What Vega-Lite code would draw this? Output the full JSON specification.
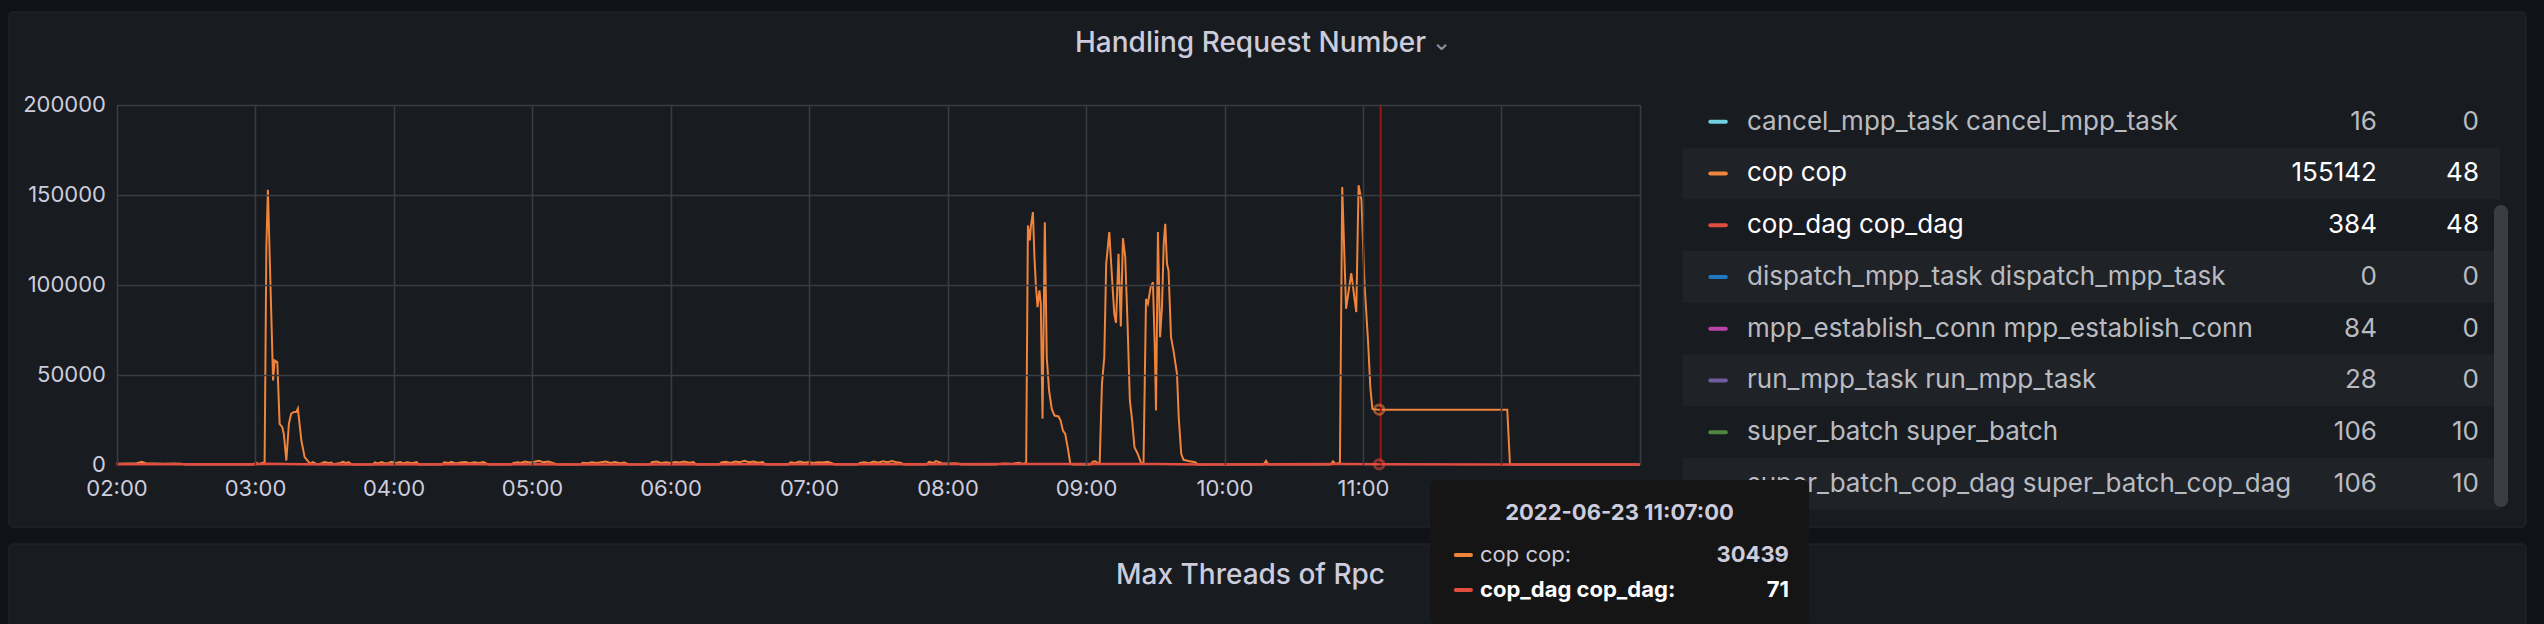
{
  "$schema": "https://vega.github.io/schema/vega-lite/v6.json",
  "width": 2544,
  "height": 624,
  "autosize": {"type": "none"},
  "padding": 0,
  "background": "#111217",
  "config": {
    "view": {"stroke": null},
    "font": "Inter",
    "axis": {"labelFont": "Inter", "labelFontSize": 22, "labelColor": "#ccccdc", "domain": false, "ticks": false, "title": null, "gridColor": "#3a3c42", "gridWidth": 1.5}
  },
  "datasets": {
    "panels": [
      {"title": "Handling Request Number"},
      {"title": "Max Threads of Rpc"}
    ],
    "cop": [
      {"time": "2022-06-23T02:00:00", "value": 400},
      {"time": "2022-06-23T02:04:00", "value": 600},
      {"time": "2022-06-23T02:08:00", "value": 500},
      {"time": "2022-06-23T02:11:00", "value": 1500},
      {"time": "2022-06-23T02:13:00", "value": 500},
      {"time": "2022-06-23T02:17:00", "value": 600},
      {"time": "2022-06-23T02:21:00", "value": 400},
      {"time": "2022-06-23T02:25:00", "value": 600},
      {"time": "2022-06-23T02:28:00", "value": 400},
      {"time": "2022-06-23T02:30:00", "value": 0},
      {"time": "2022-06-23T02:59:00", "value": 0},
      {"time": "2022-06-23T03:00:30", "value": 1000},
      {"time": "2022-06-23T03:01:30", "value": 200},
      {"time": "2022-06-23T03:04:10", "value": 1300},
      {"time": "2022-06-23T03:04:55", "value": 120900},
      {"time": "2022-06-23T03:05:35", "value": 152600},
      {"time": "2022-06-23T03:07:50", "value": 46700},
      {"time": "2022-06-23T03:08:30", "value": 57800},
      {"time": "2022-06-23T03:09:40", "value": 56900},
      {"time": "2022-06-23T03:10:40", "value": 22600},
      {"time": "2022-06-23T03:11:50", "value": 20700},
      {"time": "2022-06-23T03:12:30", "value": 16900},
      {"time": "2022-06-23T03:13:35", "value": 2200},
      {"time": "2022-06-23T03:14:40", "value": 22600},
      {"time": "2022-06-23T03:15:40", "value": 28300},
      {"time": "2022-06-23T03:16:55", "value": 29200},
      {"time": "2022-06-23T03:17:55", "value": 29200},
      {"time": "2022-06-23T03:18:35", "value": 31100},
      {"time": "2022-06-23T03:20:05", "value": 13300},
      {"time": "2022-06-23T03:21:30", "value": 4100},
      {"time": "2022-06-23T03:22:55", "value": 1900},
      {"time": "2022-06-23T03:24:00", "value": 500},
      {"time": "2022-06-23T03:25:00", "value": 1300},
      {"time": "2022-06-23T03:26:00", "value": 800},
      {"time": "2022-06-23T03:27:00", "value": 0},
      {"time": "2022-06-23T03:29:00", "value": 700},
      {"time": "2022-06-23T03:30:00", "value": 1400},
      {"time": "2022-06-23T03:32:00", "value": 900},
      {"time": "2022-06-23T03:33:00", "value": 1100},
      {"time": "2022-06-23T03:34:00", "value": 200},
      {"time": "2022-06-23T03:37:00", "value": 900},
      {"time": "2022-06-23T03:38:00", "value": 1500},
      {"time": "2022-06-23T03:39:30", "value": 800},
      {"time": "2022-06-23T03:40:30", "value": 1300},
      {"time": "2022-06-23T03:42:00", "value": 0},
      {"time": "2022-06-23T03:51:00", "value": 0},
      {"time": "2022-06-23T03:52:00", "value": 1100},
      {"time": "2022-06-23T03:53:00", "value": 600},
      {"time": "2022-06-23T03:55:00", "value": 1300},
      {"time": "2022-06-23T03:56:00", "value": 700},
      {"time": "2022-06-23T03:58:00", "value": 900},
      {"time": "2022-06-23T03:59:00", "value": 1500},
      {"time": "2022-06-23T04:01:00", "value": 900},
      {"time": "2022-06-23T04:03:00", "value": 1400},
      {"time": "2022-06-23T04:04:00", "value": 600},
      {"time": "2022-06-23T04:06:00", "value": 1200},
      {"time": "2022-06-23T04:08:00", "value": 700},
      {"time": "2022-06-23T04:10:00", "value": 1300},
      {"time": "2022-06-23T04:11:00", "value": 0},
      {"time": "2022-06-23T04:21:00", "value": 0},
      {"time": "2022-06-23T04:22:00", "value": 1200},
      {"time": "2022-06-23T04:24:00", "value": 800},
      {"time": "2022-06-23T04:25:00", "value": 1500},
      {"time": "2022-06-23T04:27:00", "value": 600},
      {"time": "2022-06-23T04:29:00", "value": 1100},
      {"time": "2022-06-23T04:31:00", "value": 1400},
      {"time": "2022-06-23T04:33:00", "value": 700},
      {"time": "2022-06-23T04:35:00", "value": 1200},
      {"time": "2022-06-23T04:37:00", "value": 900},
      {"time": "2022-06-23T04:39:00", "value": 1300},
      {"time": "2022-06-23T04:41:00", "value": 0},
      {"time": "2022-06-23T04:51:00", "value": 0},
      {"time": "2022-06-23T04:52:00", "value": 900},
      {"time": "2022-06-23T04:54:00", "value": 1300},
      {"time": "2022-06-23T04:55:00", "value": 800},
      {"time": "2022-06-23T04:57:00", "value": 1700},
      {"time": "2022-06-23T04:59:00", "value": 1100},
      {"time": "2022-06-23T05:01:00", "value": 1500},
      {"time": "2022-06-23T05:03:00", "value": 2000},
      {"time": "2022-06-23T05:05:00", "value": 1200},
      {"time": "2022-06-23T05:07:00", "value": 1600},
      {"time": "2022-06-23T05:09:00", "value": 900},
      {"time": "2022-06-23T05:11:00", "value": 0},
      {"time": "2022-06-23T05:21:00", "value": 0},
      {"time": "2022-06-23T05:22:00", "value": 1000},
      {"time": "2022-06-23T05:24:00", "value": 700},
      {"time": "2022-06-23T05:26:00", "value": 1300},
      {"time": "2022-06-23T05:28:00", "value": 800},
      {"time": "2022-06-23T05:30:00", "value": 1200},
      {"time": "2022-06-23T05:32:00", "value": 1600},
      {"time": "2022-06-23T05:34:00", "value": 900},
      {"time": "2022-06-23T05:36:00", "value": 1400},
      {"time": "2022-06-23T05:38:00", "value": 700},
      {"time": "2022-06-23T05:40:00", "value": 1100},
      {"time": "2022-06-23T05:42:00", "value": 0},
      {"time": "2022-06-23T05:51:00", "value": 0},
      {"time": "2022-06-23T05:52:00", "value": 1300},
      {"time": "2022-06-23T05:54:00", "value": 1700},
      {"time": "2022-06-23T05:56:00", "value": 900},
      {"time": "2022-06-23T05:58:00", "value": 1200},
      {"time": "2022-06-23T06:00:00", "value": 800},
      {"time": "2022-06-23T06:02:00", "value": 1400},
      {"time": "2022-06-23T06:04:00", "value": 1100},
      {"time": "2022-06-23T06:06:00", "value": 1600},
      {"time": "2022-06-23T06:08:00", "value": 1000},
      {"time": "2022-06-23T06:10:00", "value": 1300},
      {"time": "2022-06-23T06:11:00", "value": 0},
      {"time": "2022-06-23T06:21:00", "value": 0},
      {"time": "2022-06-23T06:22:00", "value": 1100},
      {"time": "2022-06-23T06:24:00", "value": 1500},
      {"time": "2022-06-23T06:26:00", "value": 900},
      {"time": "2022-06-23T06:28:00", "value": 1600},
      {"time": "2022-06-23T06:30:00", "value": 1200},
      {"time": "2022-06-23T06:32:00", "value": 2100},
      {"time": "2022-06-23T06:34:00", "value": 1300},
      {"time": "2022-06-23T06:36:00", "value": 1700},
      {"time": "2022-06-23T06:38:00", "value": 1000},
      {"time": "2022-06-23T06:40:00", "value": 1400},
      {"time": "2022-06-23T06:41:00", "value": 0},
      {"time": "2022-06-23T06:51:00", "value": 0},
      {"time": "2022-06-23T06:52:00", "value": 1200},
      {"time": "2022-06-23T06:54:00", "value": 900},
      {"time": "2022-06-23T06:56:00", "value": 1600},
      {"time": "2022-06-23T06:58:00", "value": 1000},
      {"time": "2022-06-23T07:00:00", "value": 1400},
      {"time": "2022-06-23T07:02:00", "value": 800},
      {"time": "2022-06-23T07:04:00", "value": 1300},
      {"time": "2022-06-23T07:06:00", "value": 1100},
      {"time": "2022-06-23T07:08:00", "value": 1500},
      {"time": "2022-06-23T07:10:00", "value": 700},
      {"time": "2022-06-23T07:11:00", "value": 0},
      {"time": "2022-06-23T07:21:00", "value": 0},
      {"time": "2022-06-23T07:22:00", "value": 800},
      {"time": "2022-06-23T07:24:00", "value": 1200},
      {"time": "2022-06-23T07:26:00", "value": 700},
      {"time": "2022-06-23T07:28:00", "value": 1600},
      {"time": "2022-06-23T07:30:00", "value": 1000},
      {"time": "2022-06-23T07:32:00", "value": 1800},
      {"time": "2022-06-23T07:34:00", "value": 1300},
      {"time": "2022-06-23T07:36:00", "value": 1900},
      {"time": "2022-06-23T07:38:00", "value": 1200},
      {"time": "2022-06-23T07:40:00", "value": 900},
      {"time": "2022-06-23T07:41:00", "value": 0},
      {"time": "2022-06-23T07:51:00", "value": 0},
      {"time": "2022-06-23T07:52:00", "value": 1500},
      {"time": "2022-06-23T07:54:00", "value": 900},
      {"time": "2022-06-23T07:55:00", "value": 1900},
      {"time": "2022-06-23T07:57:00", "value": 1000},
      {"time": "2022-06-23T07:58:00", "value": 400},
      {"time": "2022-06-23T07:59:00", "value": 600},
      {"time": "2022-06-23T08:01:00", "value": 500},
      {"time": "2022-06-23T08:03:00", "value": 700},
      {"time": "2022-06-23T08:05:00", "value": 400},
      {"time": "2022-06-23T08:06:00", "value": 0},
      {"time": "2022-06-23T08:21:00", "value": 0},
      {"time": "2022-06-23T08:22:00", "value": 300},
      {"time": "2022-06-23T08:25:00", "value": 500},
      {"time": "2022-06-23T08:28:00", "value": 300},
      {"time": "2022-06-23T08:30:00", "value": 800},
      {"time": "2022-06-23T08:31:00", "value": 1000},
      {"time": "2022-06-23T08:32:00", "value": 600},
      {"time": "2022-06-23T08:33:00", "value": 300},
      {"time": "2022-06-23T08:34:05", "value": 1300},
      {"time": "2022-06-23T08:34:50", "value": 132800},
      {"time": "2022-06-23T08:35:40", "value": 124500},
      {"time": "2022-06-23T08:36:05", "value": 131900},
      {"time": "2022-06-23T08:37:00", "value": 140200},
      {"time": "2022-06-23T08:37:40", "value": 115200},
      {"time": "2022-06-23T08:38:15", "value": 100400},
      {"time": "2022-06-23T08:39:00", "value": 87400},
      {"time": "2022-06-23T08:39:50", "value": 96700},
      {"time": "2022-06-23T08:40:25", "value": 89300},
      {"time": "2022-06-23T08:41:10", "value": 25400},
      {"time": "2022-06-23T08:42:10", "value": 134600},
      {"time": "2022-06-23T08:43:00", "value": 59600},
      {"time": "2022-06-23T08:44:00", "value": 41100},
      {"time": "2022-06-23T08:45:10", "value": 30900},
      {"time": "2022-06-23T08:46:20", "value": 27200},
      {"time": "2022-06-23T08:48:05", "value": 26700},
      {"time": "2022-06-23T08:49:00", "value": 24400},
      {"time": "2022-06-23T08:50:00", "value": 18900},
      {"time": "2022-06-23T08:51:00", "value": 17000},
      {"time": "2022-06-23T08:52:10", "value": 8700},
      {"time": "2022-06-23T08:53:10", "value": 700},
      {"time": "2022-06-23T08:54:00", "value": 0},
      {"time": "2022-06-23T09:02:00", "value": 0},
      {"time": "2022-06-23T09:03:00", "value": 1600},
      {"time": "2022-06-23T09:04:00", "value": 1800},
      {"time": "2022-06-23T09:05:00", "value": 900},
      {"time": "2022-06-23T09:05:55", "value": 700},
      {"time": "2022-06-23T09:06:55", "value": 44800},
      {"time": "2022-06-23T09:07:55", "value": 59600},
      {"time": "2022-06-23T09:08:45", "value": 111500},
      {"time": "2022-06-23T09:10:05", "value": 129100},
      {"time": "2022-06-23T09:11:15", "value": 104100},
      {"time": "2022-06-23T09:12:15", "value": 83700},
      {"time": "2022-06-23T09:13:00", "value": 78700},
      {"time": "2022-06-23T09:14:05", "value": 117000},
      {"time": "2022-06-23T09:15:05", "value": 76700},
      {"time": "2022-06-23T09:16:00", "value": 125700},
      {"time": "2022-06-23T09:17:00", "value": 115200},
      {"time": "2022-06-23T09:18:00", "value": 78100},
      {"time": "2022-06-23T09:19:00", "value": 35600},
      {"time": "2022-06-23T09:20:00", "value": 24400},
      {"time": "2022-06-23T09:21:00", "value": 9600},
      {"time": "2022-06-23T09:22:25", "value": 5900},
      {"time": "2022-06-23T09:23:55", "value": 700},
      {"time": "2022-06-23T09:24:55", "value": 700},
      {"time": "2022-06-23T09:26:00", "value": 92000},
      {"time": "2022-06-23T09:26:50", "value": 89300},
      {"time": "2022-06-23T09:28:00", "value": 98500},
      {"time": "2022-06-23T09:29:00", "value": 101300},
      {"time": "2022-06-23T09:29:45", "value": 67000},
      {"time": "2022-06-23T09:30:20", "value": 30000},
      {"time": "2022-06-23T09:31:10", "value": 129100},
      {"time": "2022-06-23T09:32:05", "value": 70700},
      {"time": "2022-06-23T09:32:55", "value": 87400},
      {"time": "2022-06-23T09:33:40", "value": 122600},
      {"time": "2022-06-23T09:34:20", "value": 133700},
      {"time": "2022-06-23T09:35:05", "value": 111500},
      {"time": "2022-06-23T09:35:45", "value": 107800},
      {"time": "2022-06-23T09:36:50", "value": 70700},
      {"time": "2022-06-23T09:37:55", "value": 63300},
      {"time": "2022-06-23T09:39:25", "value": 50400},
      {"time": "2022-06-23T09:40:10", "value": 26300},
      {"time": "2022-06-23T09:41:15", "value": 5900},
      {"time": "2022-06-23T09:42:15", "value": 2600},
      {"time": "2022-06-23T09:44:25", "value": 1900},
      {"time": "2022-06-23T09:47:20", "value": 1300},
      {"time": "2022-06-23T09:48:30", "value": 0},
      {"time": "2022-06-23T10:17:00", "value": 0},
      {"time": "2022-06-23T10:18:00", "value": 2000},
      {"time": "2022-06-23T10:19:00", "value": 0},
      {"time": "2022-06-23T10:46:00", "value": 0},
      {"time": "2022-06-23T10:47:00", "value": 1800},
      {"time": "2022-06-23T10:48:00", "value": 300},
      {"time": "2022-06-23T10:50:00", "value": 800},
      {"time": "2022-06-23T10:51:00", "value": 154100},
      {"time": "2022-06-23T10:52:40", "value": 86500},
      {"time": "2022-06-23T10:54:55", "value": 106300},
      {"time": "2022-06-23T10:57:05", "value": 84700},
      {"time": "2022-06-23T10:58:05", "value": 155142},
      {"time": "2022-06-23T10:59:20", "value": 146900},
      {"time": "2022-06-23T11:00:40", "value": 100200},
      {"time": "2022-06-23T11:02:10", "value": 68900},
      {"time": "2022-06-23T11:03:10", "value": 43000},
      {"time": "2022-06-23T11:04:05", "value": 30900},
      {"time": "2022-06-23T11:05:00", "value": 30600},
      {"time": "2022-06-23T11:06:00", "value": 30500},
      {"time": "2022-06-23T11:07:00", "value": 30439},
      {"time": "2022-06-23T12:02:30", "value": 30439},
      {"time": "2022-06-23T12:03:40", "value": 0},
      {"time": "2022-06-23T12:30:00", "value": 0},
      {"time": "2022-06-23T13:00:00", "value": 48}
    ],
    "cop_dag": [
      {"time": "2022-06-23T02:00:00", "value": 120},
      {"time": "2022-06-23T02:30:00", "value": 90},
      {"time": "2022-06-23T03:00:00", "value": 150},
      {"time": "2022-06-23T03:05:00", "value": 384},
      {"time": "2022-06-23T03:20:00", "value": 200},
      {"time": "2022-06-23T03:40:00", "value": 60},
      {"time": "2022-06-23T04:30:00", "value": 80},
      {"time": "2022-06-23T05:30:00", "value": 60},
      {"time": "2022-06-23T06:30:00", "value": 90},
      {"time": "2022-06-23T07:30:00", "value": 70},
      {"time": "2022-06-23T08:35:00", "value": 300},
      {"time": "2022-06-23T09:10:00", "value": 280},
      {"time": "2022-06-23T09:30:00", "value": 260},
      {"time": "2022-06-23T09:50:00", "value": 40},
      {"time": "2022-06-23T10:51:00", "value": 320},
      {"time": "2022-06-23T11:07:00", "value": 71},
      {"time": "2022-06-23T12:00:00", "value": 50},
      {"time": "2022-06-23T13:00:00", "value": 48}
    ],
    "legend": [
      {"name": "cancel_mpp_task cancel_mpp_task", "max": 16, "current": 0},
      {"name": "cop cop", "max": 155142, "current": 48},
      {"name": "cop_dag cop_dag", "max": 384, "current": 48},
      {"name": "dispatch_mpp_task dispatch_mpp_task", "max": 0, "current": 0},
      {"name": "mpp_establish_conn mpp_establish_conn", "max": 84, "current": 0},
      {"name": "run_mpp_task run_mpp_task", "max": 28, "current": 0},
      {"name": "super_batch super_batch", "max": 106, "current": 10},
      {"name": "super_batch_cop_dag super_batch_cop_dag", "max": 106, "current": 10}
    ],
    "hover": [{"time": "2022-06-23T11:07:00", "cursor": "2022-06-23T11:07:40"}],
    "tip": [
      {"name": "cop cop", "value": 30439},
      {"name": "cop_dag cop_dag", "value": 71}
    ]
  },
  "layer": [
    {
      "data": {"name": "panels"},
      "encoding": {
        "y": {"field": "title", "type": "nominal", "axis": null,
          "scale": {"domain": ["Handling Request Number", "Max Threads of Rpc"], "range": [12, 1059], "paddingInner": 0.03195, "paddingOuter": 0}},
        "x": {"datum": 0, "type": "quantitative", "axis": null, "scale": {"domain": [0, 1], "range": [9, 2526]}}
      },
      "layer": [
        {
          "mark": {"type": "rect", "fill": "#181b1f", "stroke": "#25282d", "strokeWidth": 1, "cornerRadius": 4},
          "encoding": {"x2": {"datum": 1}}
        },
        {
          "mark": {"type": "text", "align": "center", "baseline": "alphabetic", "dy": 40, "dx": -17, "fontSize": 28, "fontWeight": 500, "font": "Inter", "color": "#ccccdc"},
          "encoding": {
            "x": {"datum": 0.5, "type": "quantitative", "axis": null},
            "y": {"field": "title", "type": "nominal", "bandPosition": 0, "axis": null},
            "text": {"field": "title"}
          }
        },
        {
          "transform": [{"filter": "datum.title === 'Handling Request Number'"}],
          "mark": {"type": "text", "text": "⌄", "align": "center", "baseline": "alphabetic", "dy": 38, "dx": 174, "fontSize": 24, "font": "DejaVu Sans", "color": "#8e9099"},
          "encoding": {
            "x": {"datum": 0.5, "type": "quantitative", "axis": null},
            "y": {"field": "title", "type": "nominal", "bandPosition": 0, "axis": null}
          }
        }
      ]
    },
    {
      "data": {"name": "hover"},
      "mark": {"type": "point", "opacity": 0},
      "encoding": {
        "x": {"datum": 0, "type": "quantitative", "axis": null, "scale": {"domain": [0, 1], "range": [116.5, 1640]}},
        "y": {"datum": 0, "type": "quantitative",
          "scale": {"domain": [0, 200000], "range": [464.5, 104.5], "nice": false},
          "axis": {"orient": "left", "offset": -116.5, "grid": true, "zindex": 1, "values": [0, 50000, 100000, 150000, 200000], "format": "d", "labelPadding": 11,
            "gridColor": {"condition": {"test": "datum.value === 0", "value": "transparent"}, "value": "#3a3c42"}}}
      }
    },
    {
      "layer": [
        {
          "data": {"name": "cop"},
          "mark": {"type": "line", "color": "#ef843c", "strokeWidth": 2},
          "encoding": {
            "x": {"field": "time", "type": "temporal",
              "scale": {"range": [116.5, 1640], "nice": false},
              "axis": {"orient": "bottom", "offset": -159.5, "grid": false, "zindex": 1, "tickCount": 11, "labelExpr": "hours(datum.value) >= 12 ? '' : timeFormat(datum.value, '%H:%M')", "labelPadding": 14, "labelFlush": false, "labelOverlap": false}},
            "y": {"field": "value", "type": "quantitative",
              "scale": {"domain": [0, 200000], "range": [464.5, 104.5], "nice": false},
              "axis": null}
          }
        },
        {
          "data": {"name": "cop_dag"},
          "mark": {"type": "line", "color": "#e24d42", "strokeWidth": 2.5},
          "encoding": {
            "x": {"field": "time", "type": "temporal",
              "axis": {"orient": "top", "offset": -104.5, "grid": true, "zindex": 1, "labels": false, "tickCount": 11}},
            "y": {"field": "value", "type": "quantitative", "axis": null}
          }
        },
        {
          "data": {"name": "hover"},
          "mark": {"type": "rule", "color": "#a01414", "strokeWidth": 2},
          "encoding": {
            "x": {"field": "cursor", "type": "temporal", "axis": null},
            "y": {"datum": 0, "type": "quantitative", "axis": null},
            "y2": {"datum": 200000}
          }
        },
        {
          "data": {"name": "cop"},
          "transform": [{"filter": "hours(datum.time) === 11 && minutes(datum.time) === 7"}],
          "mark": {"type": "point", "filled": false, "color": "#ef843c", "size": 90, "strokeWidth": 3, "opacity": 0.55},
          "encoding": {
            "x": {"field": "time", "type": "temporal", "axis": null},
            "y": {"field": "value", "type": "quantitative", "axis": null}
          }
        },
        {
          "data": {"name": "cop_dag"},
          "transform": [{"filter": "hours(datum.time) === 11 && minutes(datum.time) === 7"}],
          "mark": {"type": "point", "filled": false, "color": "#e24d42", "size": 90, "strokeWidth": 3, "opacity": 0.55},
          "encoding": {
            "x": {"field": "time", "type": "temporal", "axis": null},
            "y": {"field": "value", "type": "quantitative", "axis": null}
          }
        }
      ],
      "resolve": {"axis": {"x": "independent"}}
    },
    {
      "data": {"name": "legend"},
      "encoding": {
        "y": {"field": "name", "type": "nominal", "axis": null,
          "scale": {"domain": ["cancel_mpp_task cancel_mpp_task", "cop cop", "cop_dag cop_dag", "dispatch_mpp_task dispatch_mpp_task", "mpp_establish_conn mpp_establish_conn", "run_mpp_task run_mpp_task", "super_batch super_batch", "super_batch_cop_dag super_batch_cop_dag"], "range": [95.8, 509.8], "paddingInner": 0, "paddingOuter": 0}}
      },
      "layer": [
        {
          "transform": [{"filter": {"field": "name", "oneOf": ["cop cop", "dispatch_mpp_task dispatch_mpp_task", "run_mpp_task run_mpp_task", "super_batch_cop_dag super_batch_cop_dag"]}}],
          "mark": {"type": "rect", "color": "#1f2226"},
          "encoding": {
            "x": {"datum": 0, "type": "quantitative", "axis": null, "scale": {"domain": [0, 1], "range": [1682.5, 2500]}},
            "x2": {"datum": 1}
          }
        },
        {
          "mark": {"type": "rule", "strokeWidth": 4, "strokeCap": "round"},
          "encoding": {
            "x": {"datum": 0.034, "type": "quantitative"},
            "x2": {"datum": 0.053},
            "color": {"field": "name", "type": "nominal", "legend": null,
              "scale": {"domain": ["cancel_mpp_task cancel_mpp_task", "cop cop", "cop_dag cop_dag", "dispatch_mpp_task dispatch_mpp_task", "mpp_establish_conn mpp_establish_conn", "run_mpp_task run_mpp_task", "super_batch super_batch", "super_batch_cop_dag super_batch_cop_dag"],
                "range": ["#6ed0e0", "#ef843c", "#e24d42", "#1f78c1", "#ba43a9", "#705da0", "#508642", "#cca300"]}}
          }
        },
        {
          "mark": {"type": "text", "align": "left", "baseline": "middle", "fontSize": 26, "font": "Inter"},
          "encoding": {
            "x": {"datum": 0.0789, "type": "quantitative"},
            "text": {"field": "name"},
            "color": {"condition": {"test": "datum.name === 'cop cop' || datum.name === 'cop_dag cop_dag'", "value": "#ffffff"}, "value": "#b9bbc1"}
          }
        },
        {
          "mark": {"type": "text", "align": "right", "baseline": "middle", "fontSize": 26, "font": "Inter"},
          "encoding": {
            "x": {"datum": 0.8495, "type": "quantitative"},
            "text": {"field": "max", "type": "quantitative", "format": "d"},
            "color": {"condition": {"test": "datum.name === 'cop cop' || datum.name === 'cop_dag cop_dag'", "value": "#ffffff"}, "value": "#b9bbc1"}
          }
        },
        {
          "mark": {"type": "text", "align": "right", "baseline": "middle", "fontSize": 26, "font": "Inter"},
          "encoding": {
            "x": {"datum": 0.9743, "type": "quantitative"},
            "text": {"field": "current", "type": "quantitative", "format": "d"},
            "color": {"condition": {"test": "datum.name === 'cop cop' || datum.name === 'cop_dag cop_dag'", "value": "#ffffff"}, "value": "#b9bbc1"}
          }
        }
      ]
    },
    {
      "data": {"name": "hover"},
      "mark": {"type": "rect", "color": "#3a3d44", "cornerRadius": 7},
      "encoding": {
        "x": {"datum": 0, "type": "quantitative", "axis": null, "scale": {"domain": [0, 1], "range": [2494, 2508]}},
        "x2": {"datum": 1},
        "y": {"datum": 0, "type": "quantitative", "axis": null, "scale": {"domain": [0, 1], "range": [205, 507]}},
        "y2": {"datum": 1}
      }
    },
    {
      "data": {"name": "hover"},
      "layer": [
        {
          "mark": {"type": "rect", "color": "#151515", "cornerRadius": 6},
          "encoding": {
            "x": {"datum": 0, "type": "quantitative", "axis": null, "scale": {"domain": [0, 1], "range": [1430, 1809]}},
            "x2": {"datum": 1},
            "y": {"datum": 0, "type": "quantitative", "axis": null, "scale": {"domain": [0, 1], "range": [480, 624]}},
            "y2": {"datum": 1}
          }
        },
        {
          "mark": {"type": "text", "align": "center", "baseline": "middle", "fontSize": 22, "fontWeight": "bold", "font": "Inter", "color": "#ccccdc"},
          "encoding": {
            "x": {"datum": 0.5, "type": "quantitative", "axis": null},
            "y": {"datum": 0.229, "type": "quantitative", "axis": null},
            "text": {"field": "time", "type": "temporal", "format": "%Y-%m-%d %H:%M:%S"}
          }
        }
      ]
    },
    {
      "data": {"name": "tip"},
      "transform": [{"calculate": "datum.name + ':'", "as": "label"}],
      "encoding": {
        "y": {"field": "name", "type": "nominal", "axis": null,
          "scale": {"domain": ["cop cop", "cop_dag cop_dag"], "range": [537.5, 607.5], "paddingInner": 0, "paddingOuter": 0}},
        "x": {"datum": 0.068, "type": "quantitative", "axis": null, "scale": {"domain": [0, 1], "range": [1430, 1809]}}
      },
      "layer": [
        {
          "mark": {"type": "rule", "strokeWidth": 4, "strokeCap": "round"},
          "encoding": {
            "x2": {"datum": 0.108},
            "color": {"field": "name", "type": "nominal", "legend": null, "scale": {"domain": ["cop cop", "cop_dag cop_dag"], "range": ["#ef843c", "#e24d42"]}}
          }
        },
        {
          "transform": [{"filter": "datum.name === 'cop cop'"}],
          "mark": {"type": "text", "align": "left", "baseline": "middle", "fontSize": 22, "font": "Inter", "color": "#ccccdc"},
          "encoding": {
            "x": {"datum": 0.132, "type": "quantitative", "axis": null},
            "text": {"field": "label"}
          }
        },
        {
          "transform": [{"filter": "datum.name === 'cop_dag cop_dag'"}],
          "mark": {"type": "text", "align": "left", "baseline": "middle", "fontSize": 22, "fontWeight": "bold", "font": "Inter", "color": "#ffffff"},
          "encoding": {
            "x": {"datum": 0.132, "type": "quantitative", "axis": null},
            "text": {"field": "label"}
          }
        },
        {
          "mark": {"type": "text", "align": "right", "baseline": "middle", "fontSize": 22, "fontWeight": "bold", "font": "Inter"},
          "encoding": {
            "x": {"datum": 0.947, "type": "quantitative", "axis": null},
            "text": {"field": "value", "type": "quantitative", "format": "d"},
            "color": {"condition": {"test": "datum.name === 'cop_dag cop_dag'", "value": "#ffffff"}, "value": "#ccccdc"}
          }
        }
      ]
    }
  ],
  "resolve": {"scale": {"x": "independent", "y": "independent", "color": "independent"}}
}
